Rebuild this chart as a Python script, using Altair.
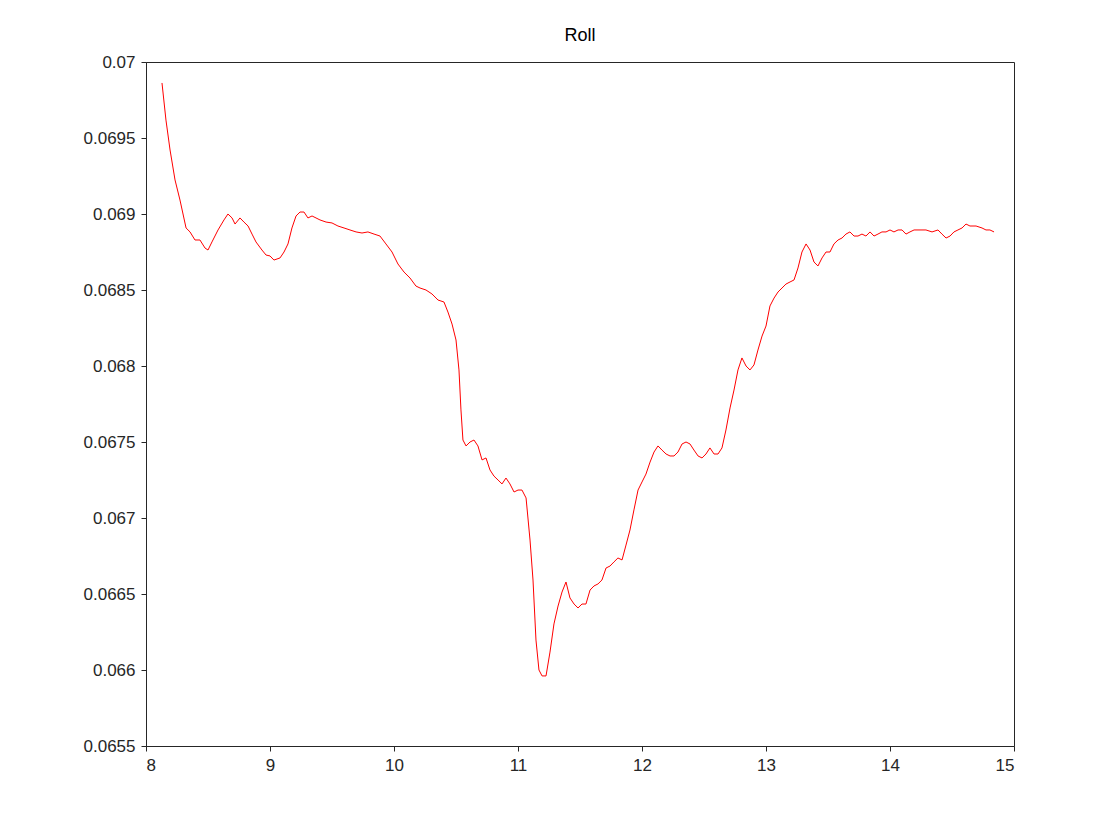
import altair as alt
import pandas as pd

x_vals = [8.129, 8.161, 8.194, 8.234, 8.274, 8.323, 8.355, 8.395, 8.435, 8.476, 8.5, 8.532, 8.581, 8.629, 8.661, 8.694, 8.718, 8.758, 8.79, 8.823,
          8.855, 8.887, 8.935, 8.968, 9.0, 9.032, 9.081, 9.113, 9.145, 9.177, 9.21, 9.242, 9.274, 9.306, 9.339, 9.371, 9.403, 9.452, 9.5, 9.548,
          9.597, 9.645, 9.694, 9.742, 9.79, 9.839, 9.887, 9.935, 9.984, 10.032, 10.081, 10.129, 10.177, 10.21, 10.258, 10.306, 10.355, 10.403, 10.435, 10.468,
          10.5, 10.524, 10.54, 10.556, 10.581, 10.613, 10.645, 10.677, 10.71, 10.742, 10.774, 10.806, 10.839, 10.871, 10.903, 10.935, 10.968, 11.0, 11.032, 11.065,
          11.097, 11.121, 11.145, 11.169, 11.194, 11.226, 11.258, 11.29, 11.323, 11.355, 11.387, 11.419, 11.452, 11.484, 11.516, 11.548, 11.581, 11.613, 11.645, 11.677,
          11.71, 11.742, 11.774, 11.806, 11.839, 11.871, 11.903, 11.935, 11.968, 12.0, 12.032, 12.065, 12.097, 12.129, 12.161, 12.194, 12.226, 12.258, 12.29, 12.323,
          12.355, 12.387, 12.419, 12.452, 12.484, 12.516, 12.548, 12.581, 12.613, 12.645, 12.677, 12.71, 12.742, 12.774, 12.806, 12.839, 12.871, 12.903, 12.935, 12.968,
          13.0, 13.032, 13.065, 13.097, 13.129, 13.161, 13.194, 13.226, 13.258, 13.29, 13.323, 13.355, 13.387, 13.419, 13.452, 13.484, 13.516, 13.548, 13.581, 13.613,
          13.645, 13.677, 13.71, 13.742, 13.774, 13.806, 13.839, 13.871, 13.903, 13.935, 13.968, 14.0, 14.032, 14.065, 14.097, 14.129, 14.161, 14.194, 14.242, 14.29,
          14.339, 14.387, 14.419, 14.452, 14.484, 14.516, 14.548, 14.581, 14.613, 14.645, 14.694, 14.742, 14.774, 14.806, 14.839]

roll_vals = [0.069862, 0.069618, 0.069421, 0.069224, 0.069092, 0.068908, 0.068882, 0.068829, 0.068829, 0.068776, 0.068763, 0.068816, 0.068895, 0.068961, 0.069000, 0.068974, 0.068934, 0.068974, 0.068947, 0.068921,
             0.068868, 0.068816, 0.068763, 0.06873, 0.068724, 0.068697, 0.068711, 0.06875, 0.068803, 0.068908, 0.068987, 0.069013, 0.069013, 0.068974, 0.068987, 0.068974, 0.068961, 0.068947, 0.068941, 0.068921,
             0.068908, 0.068895, 0.068882, 0.068875, 0.068882, 0.068868, 0.068855, 0.068803, 0.06875, 0.068671, 0.068618, 0.068579, 0.068526, 0.068513, 0.0685, 0.068474, 0.068434, 0.068421, 0.068355, 0.068276,
             0.068171, 0.067974, 0.067711, 0.067513, 0.067474, 0.0675, 0.067513, 0.067474, 0.067382, 0.067395, 0.067316, 0.067276, 0.06725, 0.067224, 0.067263, 0.067224, 0.067171, 0.067184, 0.067184, 0.067132,
             0.066855, 0.066592, 0.066197, 0.066, 0.065961, 0.065961, 0.066118, 0.066303, 0.066421, 0.066513, 0.066579, 0.066474, 0.066434, 0.066408, 0.066434, 0.066434, 0.066526, 0.066553, 0.066566, 0.066592,
             0.066671, 0.066684, 0.066711, 0.066737, 0.066724, 0.066822, 0.066921, 0.067053, 0.067184, 0.067237, 0.067289, 0.067368, 0.067434, 0.067474, 0.067447, 0.067421, 0.067408, 0.067408, 0.067434, 0.067487,
             0.0675, 0.067487, 0.067447, 0.067408, 0.067395, 0.067421, 0.067461, 0.067421, 0.067421, 0.067461, 0.067579, 0.067724, 0.067842, 0.067974, 0.068053, 0.068, 0.067974, 0.068007, 0.068105, 0.068197,
             0.068263, 0.068395, 0.068447, 0.068487, 0.068513, 0.068539, 0.068553, 0.068566, 0.068645, 0.06875, 0.068803, 0.068763, 0.068684, 0.068658, 0.068711, 0.06875, 0.06875, 0.068803, 0.068829, 0.068842,
             0.068868, 0.068882, 0.068855, 0.068855, 0.068868, 0.068855, 0.068882, 0.068855, 0.068868, 0.068882, 0.068882, 0.068895, 0.068882, 0.068895, 0.068895, 0.068868, 0.068882, 0.068895, 0.068895, 0.068895,
             0.068882, 0.068895, 0.068868, 0.068842, 0.068855, 0.068882, 0.068895, 0.068908, 0.068934, 0.068921, 0.068921, 0.068908, 0.068895, 0.068895, 0.068882]

df = pd.DataFrame({"t": x_vals, "roll": roll_vals})

line = alt.Chart(df).mark_line(color="#ff0000", strokeWidth=1).encode(
    x=alt.X("t:Q", title=None, scale=alt.Scale(domain=[8, 15], nice=False),
            axis=alt.Axis(values=[8, 9, 10, 11, 12, 13, 14, 15], format="d", grid=False)),
    y=alt.Y("roll:Q", title=None, scale=alt.Scale(domain=[0.0655, 0.07], nice=False, zero=False),
            axis=alt.Axis(values=[0.0655, 0.066, 0.0665, 0.067, 0.0675, 0.068, 0.0685, 0.069, 0.0695, 0.07],
                          format="~g", grid=False)),
)

chart = line.properties(
    width=868, height=684,
    background="white",
    autosize=alt.AutoSizeParams(type="none"),
    title=alt.TitleParams("Roll", fontSize=18, fontWeight="normal", font="Liberation Sans", color="#000000", offset=8),
    padding={"left": 138, "top": 54, "right": 98, "bottom": 86},
).configure_view(stroke="#262626", strokeWidth=1).configure_axis(
    labelFont="Liberation Sans", labelFontSize=17, labelColor="#262626",
    domainColor="#262626", tickColor="#262626", tickSize=5, labelPadding=6,
)

chart.save("out.html", embed_options={"renderer": "svg", "actions": False})
